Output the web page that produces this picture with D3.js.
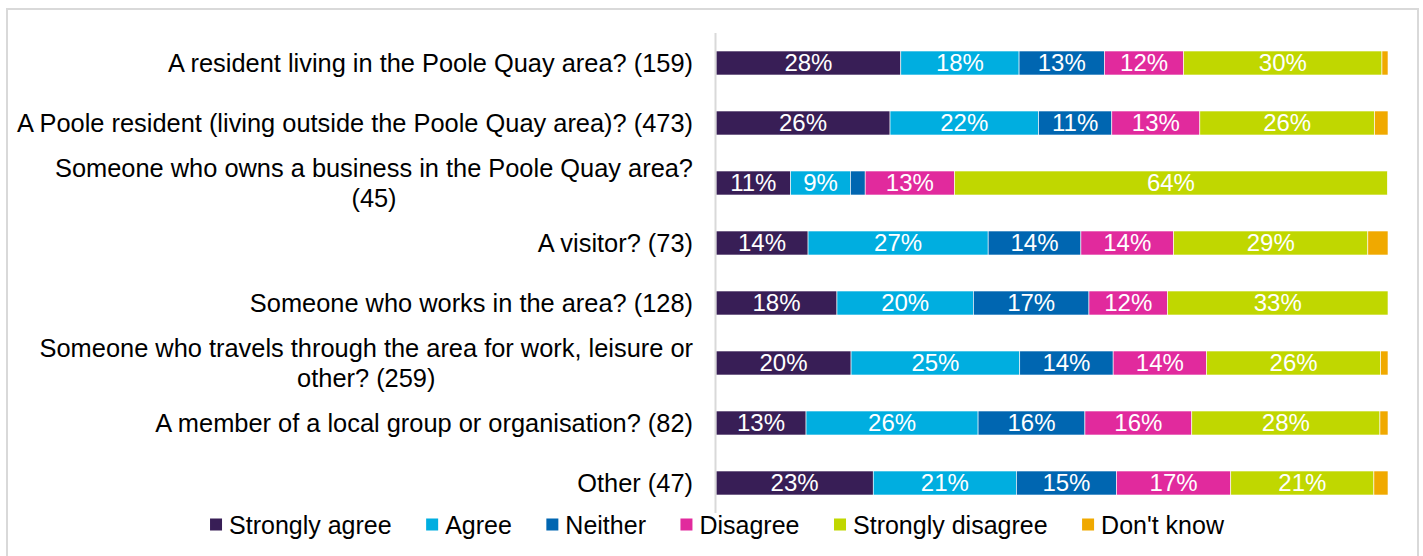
<!DOCTYPE html>
<html>
<head>
<meta charset="utf-8">
<script src="https://cdn.jsdelivr.net/npm/d3@7"></script>
<style>
  html, body { margin: 0; padding: 0; background: #ffffff; }
  svg { display: block; }
  text { font-family: "Liberation Sans", Arial, sans-serif; }
</style>
</head>
<body>
<svg id="chart" width="1423" height="556"></svg>
<script>
// ---- Data ----
const categories = [
  "A resident living in the Poole Quay area? (159)",
  "A Poole resident (living outside the Poole Quay area)? (473)",
  "Someone who owns a business in the Poole Quay area?\n(45)",
  "A visitor? (73)",
  "Someone who works in the area? (128)",
  "Someone who travels through the area for work, leisure or\nother? (259)",
  "A member of a local group or organisation? (82)",
  "Other (47)"
];
const seriesNames = ["Strongly agree", "Agree", "Neither", "Disagree", "Strongly disagree", "Don't know"];
const seriesColors = ["#381e56", "#00aee0", "#0066b1", "#e12a9d", "#c0d700", "#f0a900"];
const stronglyAgree    = [27.5, 25.9, 11.1, 13.7, 18.0, 20.1, 13.4, 23.4];
const agree            = [17.6, 22.1,  8.9, 26.8, 20.3, 25.1, 25.6, 21.3];
const neither          = [12.7, 10.9,  2.2, 13.8, 17.2, 13.9, 15.9, 14.9];
const disagree         = [11.8, 13.1, 13.3, 13.8, 11.7, 13.9, 15.9, 17.0];
const stronglyDisagree = [29.5, 26.0, 64.4, 28.9, 32.8, 25.9, 28.0, 21.3];
const dontKnow         = [ 0.9,  2.0,  0.0,  3.0,  0.0,  1.1,  1.2,  2.1];
const xDomain = [0, 100];

const seriesValues = [stronglyAgree, agree, neither, disagree, stronglyDisagree, dontKnow];
const table = categories.map((c, i) => {
  const row = { category: c };
  seriesNames.forEach((s, j) => { row[s] = seriesValues[j][i]; });
  return row;
});

// ---- Layout ----
const svg = d3.select("#chart");
const plot = { left: 716, right: 1388, top: 33, bottom: 513 };
const LABEL_FONT = 25.4;
const VALUE_FONT = 24;
const LEGEND_FONT = 25;

// chart border
svg.append("rect")
  .attr("x", 7).attr("y", 9)
  .attr("width", 1411).attr("height", 580)
  .attr("fill", "#ffffff")
  .attr("stroke", "#d9d9d9").attr("stroke-width", 2);

const x = d3.scaleLinear().domain(xDomain).range([plot.left, plot.right]);
const y = d3.scaleBand().domain(categories).range([plot.top, plot.bottom])
  .paddingInner(0.6).paddingOuter(0.3);

const stacked = d3.stack().keys(seriesNames)(table);

const g = svg.append("g");
const layers = g.selectAll("g.layer").data(stacked).join("g")
  .attr("class", "layer")
  .attr("fill", (d, i) => seriesColors[i]);

layers.selectAll("rect").data(d => d).join("rect")
  .attr("x", d => x(d[0]))
  .attr("y", d => y(d.data.category))
  .attr("width", d => Math.max(0, x(d[1]) - x(d[0])))
  .attr("height", y.bandwidth())
  .attr("stroke", "#ffffff").attr("stroke-width", 0.6);

// value labels
layers.selectAll("text").data(d => d.filter(p => (p[1] - p[0]) >= 5)).join("text")
  .attr("x", d => (x(d[0]) + x(d[1])) / 2)
  .attr("y", d => y(d.data.category) + y.bandwidth() / 2)
  .attr("dy", "0.35em")
  .attr("text-anchor", "middle")
  .attr("fill", "#ffffff")
  .attr("font-size", VALUE_FONT)
  .text(d => Math.round(d[1] - d[0]) + "%");

// category axis line
svg.append("line")
  .attr("x1", plot.left - 0.5).attr("x2", plot.left - 0.5)
  .attr("y1", plot.top).attr("y2", plot.bottom)
  .attr("stroke", "#d9d9d9").attr("stroke-width", 2);

// category labels (right-aligned block, centered lines)
const labelRight = 693;
const lineH = 29.5;
categories.forEach(c => {
  const lines = c.split("\n");
  const cy = y(c) + y.bandwidth() / 2;
  const tg = svg.append("g");
  const texts = lines.map((ln, k) => tg.append("text")
    .attr("font-size", LABEL_FONT)
    .attr("fill", "#000000")
    .attr("text-anchor", "middle")
    .attr("y", cy + (k - (lines.length - 1) / 2) * lineH)
    .attr("dy", "0.35em")
    .text(ln));
  const maxW = d3.max(texts, t => t.node().getComputedTextLength());
  texts.forEach(t => t.attr("x", labelRight - maxW / 2));
});

// legend
const legY = 525, sq = 12, gapText = 7, gapItem = 34.5;
const leg = svg.append("g");
let cx = 0;
seriesNames.forEach((s, i) => {
  const item = leg.append("g").attr("transform", `translate(${cx},0)`);
  item.append("rect").attr("x", 0).attr("y", legY - sq / 2 - 0.5)
    .attr("width", sq).attr("height", sq).attr("fill", seriesColors[i]);
  const t = item.append("text").attr("x", sq + gapText).attr("y", legY)
    .attr("dy", "0.35em").attr("font-size", LEGEND_FONT).attr("fill", "#000000").text(s);
  cx += sq + gapText + t.node().getComputedTextLength() + gapItem;
});
const legW = cx - gapItem;
leg.attr("transform", `translate(${717 - legW / 2},0)`);
</script>
</body>
</html>
